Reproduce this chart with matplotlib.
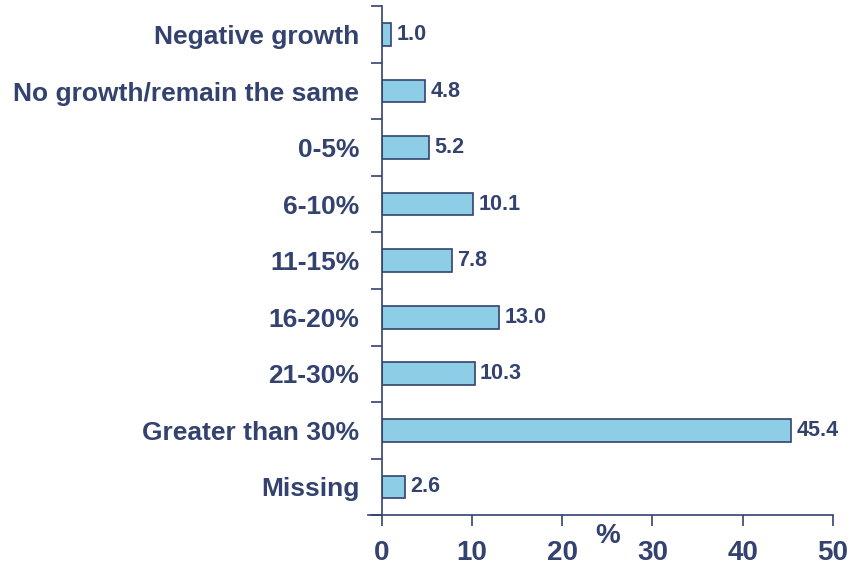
import numpy as np
import matplotlib.pyplot as plt

categories = ["Negative growth", "No growth/remain the same", "0-5%", "6-10%", "11-15%",
              "16-20%", "21-30%", "Greater than 30%", "Missing"]
values = [1.0, 4.8, 5.2, 10.1, 7.8, 13.0, 10.3, 45.4, 2.6]
xticks = [0, 10, 20, 30, 40, 50]

navy = '#33426e'
fill = '#8dcde6'

plt.rcParams['font.family'] = ['Liberation Sans', 'DejaVu Sans']
plt.rcParams['font.weight'] = 'bold'

fig = plt.figure(figsize=(8.5, 5.68), dpi=100)
ax = fig.add_axes([0.449, 0.093, 0.531, 0.896])

ind = np.arange(len(categories))
ax.barh(ind, values, height=0.4, color=fill, edgecolor=navy, linewidth=1.2)
for i, v in zip(ind, values):
    ax.text(v + 0.6, i, '%.1f' % v, va='center', ha='left', fontsize=15.5,
            fontweight='bold', color=navy)

ax.set_ylim(len(categories) - 0.5, -0.5)
ax.set_yticks(ind)
ax.set_yticklabels(categories, fontsize=19, fontweight='bold', color=navy)
ax.set_yticks(np.arange(-0.5, len(categories)), minor=True)
ax.tick_params(axis='y', which='major', length=0, pad=16)
ax.tick_params(axis='y', which='minor', length=8, width=1.2, color=navy, direction='out')

ax.set_xticks(xticks)
ax.set_xticklabels([str(t) for t in xticks], fontsize=20, fontweight='bold', color=navy)
ax.tick_params(axis='x', length=8, width=1.2, color=navy, direction='out', pad=10)
ax.text(25, -0.04, '%', transform=ax.get_xaxis_transform(), ha='center', va='center',
        fontsize=20, fontweight='bold', color=navy)

for side in ['top', 'right']:
    ax.spines[side].set_visible(False)
for side in ['left', 'bottom']:
    ax.spines[side].set_color(navy)
    ax.spines[side].set_linewidth(1.2)
ax.spines['bottom'].set_bounds(-1.5, 50)
ax.set_xlim(-0.01, 50)

fig.savefig('out.png', dpi=100)
